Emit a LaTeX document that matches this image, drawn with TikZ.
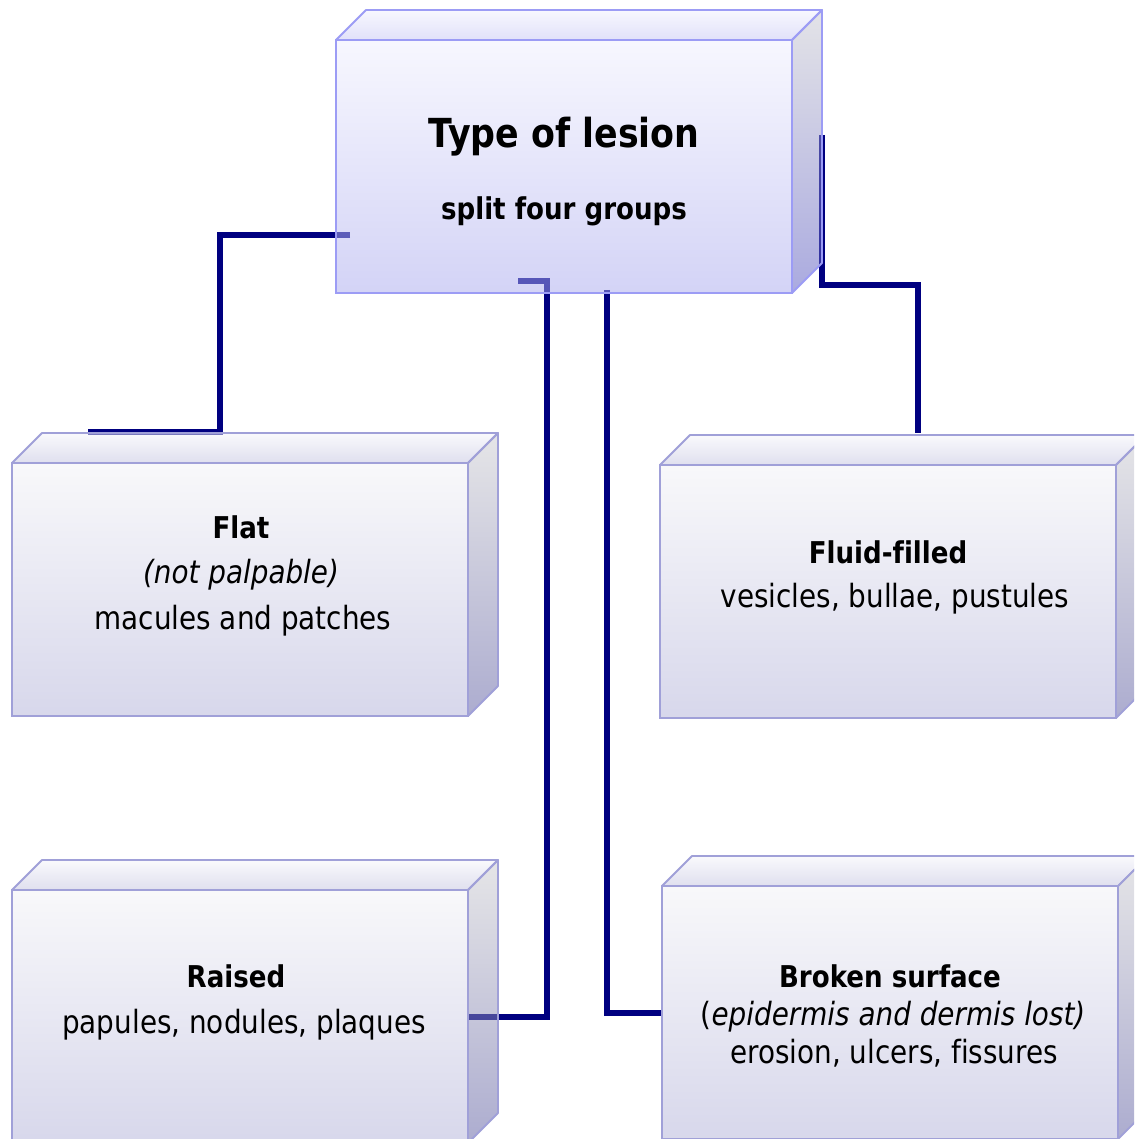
\documentclass[tikz,border=0pt]{standalone}
\usepackage{fontspec}
\setmainfont{DejaVu Sans}[BoldFont={DejaVu Sans Bold},ItalicFont={DejaVu Sans Oblique},Ligatures=NoCommon,FakeStretch=0.87]
\usetikzlibrary{calc}
\pgfdeclarelayer{bg}
\pgfsetlayers{bg,main}
% colours (fill opacity 0.5 over white gives the visible tone)
\definecolor{lowfrontT}{RGB}{243,243,247}
\definecolor{lowfrontB}{RGB}{177,177,217}
\definecolor{lowtopT}{RGB}{245,245,251}
\definecolor{lowtopB}{RGB}{193,193,223}
\definecolor{lowsideT}{RGB}{205,205,209}
\definecolor{lowsideB}{RGB}{91,91,161}
\definecolor{lowborder}{RGB}{160,160,216}
\definecolor{hifrontT}{RGB}{241,241,255}
\definecolor{hifrontB}{RGB}{169,169,239}
\definecolor{hitopT}{RGB}{241,241,255}
\definecolor{hitopB}{RGB}{197,197,245}
\definecolor{hisideT}{RGB}{201,201,209}
\definecolor{hisideB}{RGB}{87,87,193}
\definecolor{hiborder}{RGB}{156,156,245}
\definecolor{connnavy}{RGB}{0,0,128}
\tikzset{
  frontbase/.style={rectangle, inner sep=0pt, outer sep=0pt, anchor=north west,
    minimum width=456pt, minimum height=253pt, line width=1.8pt, fill opacity=0.5, draw opacity=1},
  lowfront/.style={frontbase, draw=lowborder, top color=lowfrontT, bottom color=lowfrontB},
  hifront/.style={frontbase, draw=hiborder, top color=hifrontT, bottom color=hifrontB},
  lowtopface/.style={draw=lowborder, line width=1.8pt, line join=round, top color=lowtopT, bottom color=lowtopB, fill opacity=0.5, draw opacity=1},
  lowsideface/.style={draw=lowborder, line width=1.8pt, line join=round, top color=lowsideT, bottom color=lowsideB, fill opacity=0.5, draw opacity=1},
  hitopface/.style={draw=hiborder, line width=1.8pt, line join=round, top color=hitopT, bottom color=hitopB, fill opacity=0.5, draw opacity=1},
  hisideface/.style={draw=hiborder, line width=1.8pt, line join=round, top color=hisideT, bottom color=hisideB, fill opacity=0.5, draw opacity=1},
  conn/.style={draw=connnavy, line width=5.5pt, line join=miter},
  headtxt/.style={anchor=base, inner sep=0pt, font=\fontsize{30}{34}\selectfont\bfseries},
  bodytxt/.style={anchor=base, inner sep=0pt, font=\fontsize{32}{36}\selectfont},
}
\newcommand\boxdepth[3]{%
  \path[#2] (#1.north west) -- ++(30,-30) -- ($(#1.north east)+(30,-30)$) -- (#1.north east) -- cycle;
  \path[#3] (#1.north east) -- ++(30,-30) -- ($(#1.south east)+(30,-30)$) -- (#1.south east) -- cycle;
}
\begin{document}
\begin{tikzpicture}[x=1pt,y=-1pt]
\useasboundingbox (0,0) rectangle (1134,1139);
\clip (0,0) rectangle (1134,1139);

% boxes
\node[hifront] (top) at (336,40) {};
\boxdepth{top}{hitopface}{hisideface}
\node[lowfront] (flat) at (12,463) {};
\boxdepth{flat}{lowtopface}{lowsideface}
\node[lowfront] (fluid) at (660,465) {};
\boxdepth{fluid}{lowtopface}{lowsideface}
\node[lowfront] (raised) at (12,890) {};
\boxdepth{raised}{lowtopface}{lowsideface}
\node[lowfront] (broken) at (662,886) {};
\boxdepth{broken}{lowtopface}{lowsideface}

% background and connectors (behind the boxes)
\begin{pgfonlayer}{bg}
\fill[white] (0,0) rectangle (1134,1139);
\draw[conn] ($(top.north west)+(14,195)$) -| ($(flat.north west)+(208,-31)$) -- ($(flat.north west)+(76,-31)$);
\draw[conn] ($(top.north west)+(182,241)$) -| ($(raised.north east)+(79,127)$) -- ($(raised.north east)+(0,127)$);
\draw[conn] ($(top.north west)+(271,250)$) |- ($(broken.north west)+(0,127)$);
\draw[conn] ($(top.north east)+(30,95)$) -- ++(0,150) -| ($(fluid.north west)+(258,-32)$);
\end{pgfonlayer}

% texts
\node[anchor=base, inner sep=0pt, font=\fontsize{40}{46}\selectfont\bfseries] (ttitle) at (564,148) {Type of lesion};
\node[headtxt] (tsub) at (564,220) {split four groups};

\node[headtxt] (flath) at (241,538) {Flat};
\node[bodytxt] (flat2) at (241,583) {\itshape (not palpable)};
\node[bodytxt] (flat3) at (243,629) {macules and patches};

\node[headtxt] (fluidh) at (888,563) {Fluid-filled};
\node[bodytxt] (fluid2) at (895,607) {vesicles, bullae, pustules};

\node[headtxt] (raisedh) at (236,987) {Raised};
\node[bodytxt] (raised2) at (244,1033) {papules, nodules, plaques};

\node[headtxt] (brokenh) at (890,987) {Broken surface};
\node[bodytxt] (broken2) at (893,1025) {(\textit{epidermis and dermis lost)}};
\node[bodytxt] (broken3) at (894,1063) {erosion, ulcers, fissures};
\end{tikzpicture}
\end{document}
